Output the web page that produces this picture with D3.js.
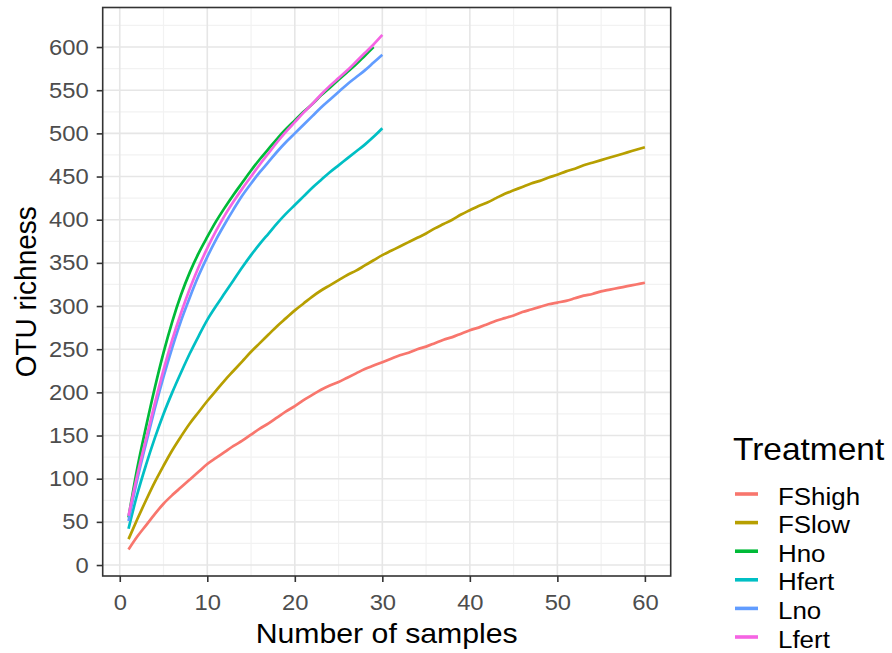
<!DOCTYPE html>
<html>
<head>
<meta charset="utf-8">
<script src="https://cdn.jsdelivr.net/npm/d3@7/dist/d3.min.js"></script>
<style>
  html, body { margin: 0; padding: 0; background: #fff; }
  text { font-family: "Liberation Sans", Arial, Helvetica, sans-serif; }
</style>
</head>
<body>
<svg id="chart" width="892" height="653"></svg>
<script>
// Rarefaction curves: OTU richness by number of pooled samples, per treatment
const treatments = ["FShigh", "FSlow", "Hno", "Hfert", "Lno", "Lfert"];
const colors = ["#F8766D", "#B79F00", "#00BA38", "#00BFC4", "#619CFF", "#F564E3"];

const fsHigh = [
  18, 33, 46, 59, 71, 81, 90, 99, 108, 117,
  124, 131, 138, 144, 151, 158, 164, 171, 178, 184,
  191, 197, 203, 208, 212, 217, 222, 227, 231, 235,
  239, 243, 246, 250, 253, 257, 261, 264, 268, 272,
  275, 279, 283, 286, 289, 293, 296, 299, 302, 304,
  306, 309, 312, 314, 317, 319, 321, 323, 325, 327
];
const fsLow = [
  30, 53, 75, 96, 115, 133, 149, 164, 177, 190,
  202, 214, 225, 236, 247, 257, 267, 277, 286, 295,
  303, 311, 318, 324, 330, 336, 341, 347, 353, 359,
  364, 369, 374, 379, 384, 390, 395, 400, 406, 411,
  416, 420, 425, 430, 434, 438, 442, 445, 449, 452,
  456, 459, 463, 466, 469, 472, 475, 478, 481, 484
];
const hNo = [
  55, 112, 160, 205, 246, 282, 313, 339, 361, 380,
  398, 414, 429, 443, 457, 470, 482, 494, 505, 515,
  525, 534, 544, 553, 562, 571, 580, 590, 600
];
const hFert = [
  42, 82, 116, 147, 175, 200, 223, 245, 265, 284,
  300, 315, 330, 345, 359, 372, 384, 396, 407, 417,
  427, 437, 446, 455, 463, 471, 479, 487, 496, 506
];
const lNo = [
  51, 99, 141, 181, 218, 252, 283, 310, 335, 357,
  377, 395, 412, 428, 442, 455, 467, 479, 490, 500,
  510, 520, 530, 539, 548, 557, 565, 573, 582, 591
];
const lFert = [
  57, 104, 146, 187, 226, 261, 292, 320, 345, 367,
  387, 405, 421, 436, 450, 464, 477, 490, 502, 513,
  524, 534, 545, 555, 564, 573, 583, 593, 603, 614
];
const seriesValues = [fsHigh, fsLow, hNo, hFert, lNo, lFert];

const xTicks = [0, 10, 20, 30, 40, 50, 60];
const xMinor = [5, 15, 25, 35, 45, 55];
const yTicks = [0, 50, 100, 150, 200, 250, 300, 350, 400, 450, 500, 550, 600];
const yMinor = [25, 75, 125, 175, 225, 275, 325, 375, 425, 475, 525, 575, 625];

// Layout
const panel = { left: 102.7, right: 670.7, top: 7.5, bottom: 576 };
const SX = 1.08; // slight horizontal widening of glyphs

const svg = d3.select("#chart");
const x = d3.scaleLinear().domain([-1.95, 62.95]).range([panel.left, panel.right]);
const y = d3.scaleLinear().domain([-12.7, 645.8]).range([panel.bottom, panel.top]);

const series = treatments.map((name, i) => ({
  name, color: colors[i],
  points: seriesValues[i].map((v, j) => ({ n: j + 1, v }))
}));

// Panel background
svg.append("rect")
  .attr("x", panel.left).attr("y", panel.top)
  .attr("width", panel.right - panel.left).attr("height", panel.bottom - panel.top)
  .attr("fill", "#fff");

// Grid
const grid = svg.append("g");
grid.selectAll(".xmin").data(xMinor).join("line")
  .attr("x1", d => x(d)).attr("x2", d => x(d))
  .attr("y1", panel.top).attr("y2", panel.bottom)
  .attr("stroke", "#F2F2F2").attr("stroke-width", 1.2);
grid.selectAll(".ymin").data(yMinor).join("line")
  .attr("y1", d => y(d)).attr("y2", d => y(d))
  .attr("x1", panel.left).attr("x2", panel.right)
  .attr("stroke", "#F2F2F2").attr("stroke-width", 1.2);
grid.selectAll(".xmaj").data(xTicks).join("line")
  .attr("x1", d => x(d)).attr("x2", d => x(d))
  .attr("y1", panel.top).attr("y2", panel.bottom)
  .attr("stroke", "#E6E6E6").attr("stroke-width", 1.6);
grid.selectAll(".ymaj").data(yTicks).join("line")
  .attr("y1", d => y(d)).attr("y2", d => y(d))
  .attr("x1", panel.left).attr("x2", panel.right)
  .attr("stroke", "#E6E6E6").attr("stroke-width", 1.6);

// Curves
const line = d3.line().x(d => x(d.n)).y(d => y(d.v)).curve(d3.curveMonotoneX);
svg.append("g").selectAll("path").data(series).join("path")
  .attr("d", d => line(d.points))
  .attr("fill", "none")
  .attr("stroke", d => d.color)
  .attr("stroke-width", 2.7)
  .attr("stroke-linejoin", "round")
  .attr("stroke-linecap", "butt");

// Panel border
svg.append("rect")
  .attr("x", panel.left).attr("y", panel.top)
  .attr("width", panel.right - panel.left).attr("height", panel.bottom - panel.top)
  .attr("fill", "none").attr("stroke", "#333333").attr("stroke-width", 1.6);

// Axes
const xAxis = svg.append("g")
  .attr("transform", `translate(0,${panel.bottom})`)
  .call(d3.axisBottom(x).tickValues(xTicks).tickSize(6).tickPadding(12).tickSizeOuter(0));
const yAxis = svg.append("g")
  .attr("transform", `translate(${panel.left},0)`)
  .call(d3.axisLeft(y).tickValues(yTicks).tickSize(6).tickPadding(7).tickSizeOuter(0));

[xAxis, yAxis].forEach(ax => {
  ax.select(".domain").remove();
  ax.selectAll(".tick line").attr("stroke", "#333333").attr("stroke-width", 1.6);
  ax.selectAll(".tick text")
    .attr("fill", "#4D4D4D")
    .style("font-size", "22px")
    .attr("transform", `scale(${SX},1)`);
});

// Axis titles
svg.append("text")
  .attr("transform", `translate(${(panel.left + panel.right) / 2},643) scale(${SX},1)`)
  .attr("text-anchor", "middle")
  .style("font-size", "28px").attr("fill", "#000")
  .text("Number of samples");

svg.append("text")
  .attr("transform", `translate(36,${(panel.top + panel.bottom) / 2}) rotate(-90) scale(1,${SX})`)
  .attr("text-anchor", "middle")
  .style("font-size", "28px").attr("fill", "#000")
  .text("OTU richness");

// Legend
const legend = svg.append("g").attr("transform", "translate(733,0)");
legend.append("text")
  .attr("transform", `translate(0,460) scale(${SX},1)`)
  .style("font-size", "31px").attr("fill", "#000")
  .text("Treatment");

const keyY0 = 494, keyStep = 28.6;
const items = legend.selectAll(".item").data(series).join("g")
  .attr("transform", (d, i) => `translate(0,${keyY0 + i * keyStep})`);
items.append("line")
  .attr("x1", 2).attr("x2", 25).attr("y1", 0).attr("y2", 0)
  .attr("stroke", d => d.color).attr("stroke-width", 3.6);
items.append("text")
  .attr("transform", `translate(45,10.5) scale(${SX},1)`)
  .style("font-size", "24px").attr("fill", "#000")
  .text(d => d.name);
</script>
</body>
</html>
